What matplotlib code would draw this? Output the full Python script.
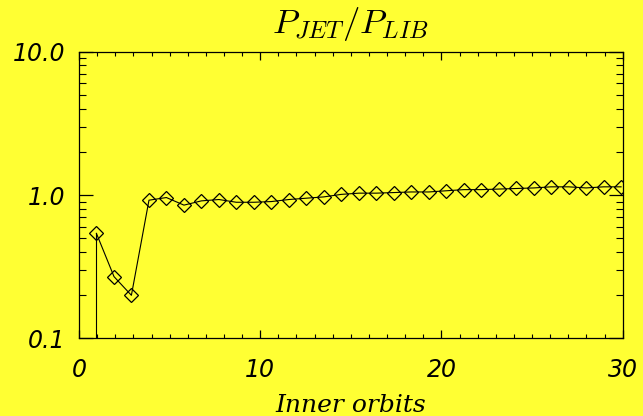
import matplotlib
matplotlib.use("Agg")
import matplotlib.pyplot as plt
from matplotlib.ticker import FixedLocator, LogLocator, FuncFormatter, NullFormatter

plt.rcParams['mathtext.fontset'] = 'cm'

# P_JET / P_LIB ratio sampled over inner orbits
orbits = [0.96, 1.93, 2.89, 3.86, 4.82, 5.79, 6.75, 7.72, 8.68, 9.65,
          10.61, 11.58, 12.54, 13.51, 14.47, 15.44, 16.40, 17.37, 18.33, 19.30,
          20.26, 21.23, 22.19, 23.16, 24.12, 25.09, 26.05, 27.02, 27.98, 28.95,
          29.91]
ratio = [0.54, 0.27, 0.20, 0.92, 0.96, 0.85, 0.91, 0.93, 0.89, 0.89,
         0.90, 0.93, 0.95, 0.97, 1.01, 1.03, 1.03, 1.04, 1.05, 1.05,
         1.07, 1.09, 1.09, 1.10, 1.11, 1.12, 1.14, 1.14, 1.12, 1.14,
         1.14]
x_ticks = [0, 10, 20, 30]
y_ticks = [0.1, 1.0, 10.0]

BG = '#FFFF33'

fig = plt.figure(figsize=(6.43, 4.16), dpi=100, facecolor=BG)
ax = fig.add_axes([0.1229, 0.1863, 0.8455, 0.6899], facecolor=BG)

ax.set_yscale('log')
ax.set_xlim(x_ticks[0], x_ticks[-1])
ax.set_ylim(y_ticks[0], y_ticks[-1])

# drop line from the first sample to the bottom of the axis
ax.plot([orbits[0], orbits[0]], [y_ticks[0], ratio[0]], color='black', lw=0.8)
ax.plot(orbits, ratio, color='black', lw=0.8, marker='D', ms=7.3,
        mfc='none', mec='black', mew=0.9)

for s in ax.spines.values():
    s.set_linewidth(0.9)
    s.set_color('black')

ax.xaxis.set_major_locator(FixedLocator(x_ticks))
ax.xaxis.set_minor_locator(FixedLocator(range(0, 31)))
ax.yaxis.set_major_locator(FixedLocator(y_ticks))
ax.yaxis.set_minor_locator(LogLocator(base=10, subs=range(2, 10)))
ax.yaxis.set_major_formatter(FuncFormatter(lambda v, p: f'{v:.1f}'))
ax.yaxis.set_minor_formatter(NullFormatter())

ax.tick_params(which='both', direction='in', top=True, right=True, color='black')
ax.tick_params(axis='x', which='major', length=6, width=0.9, pad=14)
ax.tick_params(axis='x', which='minor', length=3, width=0.8)
ax.tick_params(axis='y', which='major', length=10, width=0.9, pad=10)
ax.tick_params(axis='y', which='minor', length=5, width=0.8)

for lab in ax.get_xticklabels() + ax.get_yticklabels():
    lab.set_fontfamily('DejaVu Sans')
    lab.set_fontstyle('italic')
    lab.set_fontsize(17)

ax.set_title(r'$P_{JET}/P_{LIB}$', fontsize=25, pad=13)
ax.set_xlabel('Inner orbits', fontfamily='DejaVu Serif', fontstyle='italic',
              fontsize=18, labelpad=9)

fig.savefig('out.png', dpi=100, facecolor=BG)
